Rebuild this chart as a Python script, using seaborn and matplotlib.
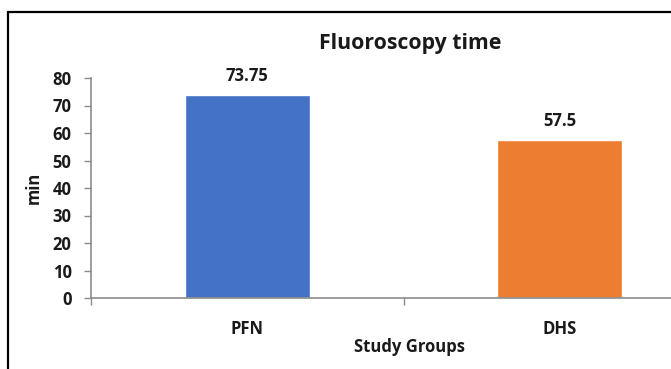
import matplotlib
matplotlib.use("Agg")
import matplotlib.pyplot as plt
from matplotlib.lines import Line2D
import seaborn as sns
import pandas as pd

groups = ["PFN", "DHS"]
fluoro_minutes = [73.75, 57.5]
value_labels = ["73.75", "57.5"]
bar_colors = ["#4472C4", "#ED7D31"]
y_ticks = [0, 10, 20, 30, 40, 50, 60, 70, 80]

sns.set_theme(style="white")
plt.rcParams["font.family"] = ["Open Sans", "DejaVu Sans"]

df = pd.DataFrame({"group": groups, "minutes": fluoro_minutes})

W, H = 671, 369
fig = plt.figure(figsize=(W / 100, H / 100), dpi=100)
fig.patch.set_facecolor("white")

# plot area in pixel space
left_px, right_px, top_px, bottom_px = 91, 716, 78, 298
ax = fig.add_axes([left_px / W, 1 - bottom_px / H,
                   (right_px - left_px) / W, (bottom_px - top_px) / H])

sns.barplot(data=df, x="group", y="minutes", hue="group", palette=bar_colors,
            order=groups, hue_order=groups, width=0.4, legend=False,
            saturation=1, ax=ax)

TXT = "#1a1a1a"
FS = 12
ax.set_ylim(0, 80)
ax.set_xlim(-0.5, 1.5)
ax.set_yticks(y_ticks)
ax.set_yticklabels([str(t) for t in y_ticks], fontsize=FS, fontweight="bold",
                   color=TXT)
ax.set_xticks(range(len(groups)))
ax.set_xticklabels(groups, fontsize=FS, fontweight="bold", color=TXT)
ax.set_xticks([-0.5, 0.5, 1.5], minor=True)
ax.tick_params(axis="x", which="major", length=0, pad=16)
ax.tick_params(axis="x", which="minor", length=5, width=1, color="#8c8c8c",
               direction="out", bottom=True)
ax.tick_params(axis="y", length=5, width=1, color="#8c8c8c", direction="out",
               left=True, pad=9)

for side in ("top", "right"):
    ax.spines[side].set_visible(False)
for side in ("left", "bottom"):
    ax.spines[side].set_color("#8c8c8c")
    ax.spines[side].set_linewidth(1.2)

for i, (v, lab) in enumerate(zip(fluoro_minutes, value_labels)):
    ax.annotate(lab, (i, v), xytext=(0, 7), textcoords="offset points",
                ha="center", va="bottom", fontsize=FS, fontweight="bold",
                color=TXT)

ax.set_xlabel("")
ax.set_ylabel("")
fig.text(410 / W, 1 - 44 / H, "Fluoroscopy time", ha="center", va="center",
         fontsize=15.3, fontweight="bold", color=TXT)
fig.text(410 / W, 1 - 347 / H, "Study Groups", ha="center", va="center",
         fontsize=FS, fontweight="bold", color=TXT)
fig.text(34 / W, 1 - 188 / H, "min", ha="center", va="center", rotation=90,
         fontsize=FS, fontweight="bold", color=TXT)

# frame lines along the left and top
fig.add_artist(Line2D([7.5 / W, 7.5 / W], [0, 1 - 12 / H],
                      transform=fig.transFigure, color="black", lw=1.6))
fig.add_artist(Line2D([7.5 / W, 1], [1 - 12 / H, 1 - 12 / H],
                      transform=fig.transFigure, color="black", lw=1.6))

fig.savefig("out.png", dpi=100, facecolor="white")
